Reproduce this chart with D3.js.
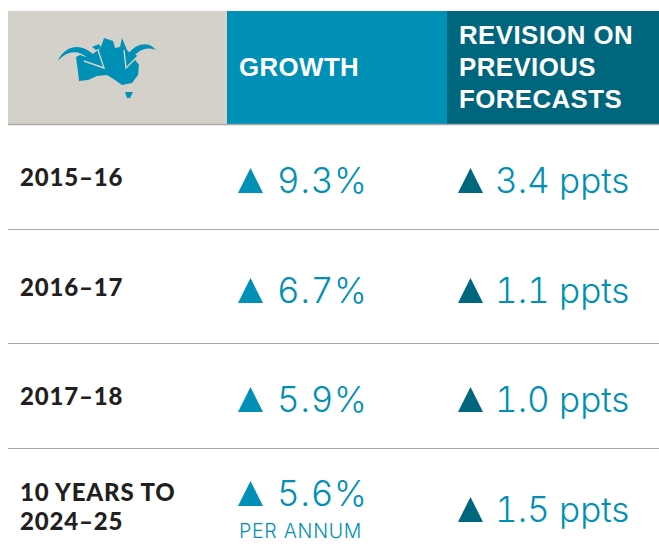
<!DOCTYPE html>
<html>
<head>
<meta charset="utf-8">
<script src="https://cdn.jsdelivr.net/npm/d3@7"></script>
<style>
  html,body{margin:0;padding:0;background:#fff;}
  svg{display:block;}
  .head{font-family:"Liberation Sans",sans-serif;font-weight:700;font-size:25.8px;fill:#fff;letter-spacing:.45px;}
  .period{font-family:"Lato",sans-serif;font-weight:900;font-size:24px;fill:#231f20;letter-spacing:.85px;}
  .val{font-family:"Inter",sans-serif;font-weight:300;font-size:35px;fill:#0090b5;font-variant-numeric:tabular-nums;font-feature-settings:"tnum" 1;}
  .val.pct{letter-spacing:.8px;}
  .note{font-family:"Inter",sans-serif;font-weight:300;font-size:19.5px;fill:#0090b5;letter-spacing:.75px;}
</style>
</head>
<body>
<script>
/* Forecast table: growth and revision per period, header icon is a plain sketch of the map */
const periods = [['2015–16'], ['2016–17'], ['2017–18'], ['10 YEARS TO', '2024–25']];
const growth = [9.3, 6.7, 5.9, 5.6];
const revision = [3.4, 1.1, 1.0, 1.5];
const growthNote = ['', '', '', 'PER ANNUM'];
const columns = [['GROWTH'], ['REVISION ON', 'PREVIOUS', 'FORECASTS']];

const GREY = '#d4d0ca', BLUE = '#0090b5', DARK = '#00667e', RULE = '#a9a7a2';
const W = 659, H = 556;

const svg = d3.select('body').append('svg').attr('width', W).attr('height', H);

// row geometry, the rows aren't evenly spaced in the original
const rowY = d3.scaleOrdinal().domain(d3.range(4)).range([193, 303, 412, 506]);
const revY = d3.scaleOrdinal().domain(d3.range(4)).range([193, 303, 412, 522]);
const labelY = d3.scaleOrdinal().domain(d3.range(4)).range([186, 296, 405, 501]);
const rules = [229.5, 343.5, 448.5];

// header blocks
svg.append('rect').attr('x', 8).attr('y', 11).attr('width', 219).attr('height', 113).attr('fill', GREY);
svg.append('rect').attr('x', 227).attr('y', 11).attr('width', 220).attr('height', 113).attr('fill', BLUE);
svg.append('rect').attr('x', 447).attr('y', 11).attr('width', 212).attr('height', 113).attr('fill', DARK);

svg.append('line').attr('x1', 8).attr('x2', W).attr('y1', 124.5).attr('y2', 124.5).attr('stroke', RULE).attr('stroke-width', 1.5);
svg.selectAll('line.rule').data(rules).join('line').attr('class', 'rule')
  .attr('x1', 8).attr('x2', W).attr('y1', d => d).attr('y2', d => d)
  .attr('stroke', RULE).attr('stroke-width', 1.2);

// header text
svg.append('text').attr('class', 'head').attr('x', 239).attr('y', 76).text(columns[0][0]);
svg.append('g').selectAll('text').data(columns[1]).join('text')
  .attr('class', 'head').attr('x', 459).attr('y', (d, i) => 44 + i * 32).text(d => d);

// map icon
const poly = d3.line().curve(d3.curveLinearClosed);
const open = d3.line();
const icon = svg.append('g');
icon.append('path').attr('fill', BLUE).attr('d', poly([
  [76,57],[80,55],[86,57],[98,52],[102,44],[104,38],[113,41],[115,48],[120,47],[122,38],
  [127,50],[133,57],[139,65],[138,75],[132,83],[122,85],[115,80],[107,75],[97,76],[88,80],[79,81],[78,72]
]));
icon.append('path').attr('fill', BLUE).attr('d', poly([[125,92],[133,92],[130,98],[127,98]]));
icon.append('path').attr('fill', BLUE).attr('d', poly([[92,47],[99,44],[101,48],[96,50]]));

const arrow = (tail, tip, barbA, barbB) => {
  icon.append('path').attr('fill', BLUE).attr('d', poly([barbA, tip, barbB]));
  icon.append('path').attr('fill', 'none').attr('stroke', GREY).attr('stroke-width', 1.4)
    .attr('d', open([barbA, tip, barbB]));
  icon.append('path').attr('fill', BLUE).attr('d', tail);
};
arrow('M58,61 C64,46 80,42 93,54 L88,58 C78,50 68,50 58,61 Z', [104,68], [98,50], [84,61]);
arrow('M156,50 C148,40 134,44 127,56 L132,59 C138,50 146,46 156,50 Z', [126,68], [124,50], [138,56]);

// rows
const tri = (x, base) => poly([[x, base], [x + 25, base], [x + 12.5, base - 25]]);
const fmt = d3.format('.1f');

const rows = svg.selectAll('g.row').data(periods).join('g').attr('class', 'row');
rows.each(function(lines, i) {
  const g = d3.select(this);
  g.selectAll('text.period').data(lines).join('text').attr('class', 'period')
    .attr('x', 20).attr('y', (d, j) => labelY(i) + j * 29).text(d => d);

  g.append('path').attr('d', tri(238, rowY(i))).attr('fill', BLUE);
  g.append('text').attr('class', 'val pct').attr('x', 277).attr('y', rowY(i)).text(fmt(growth[i]) + '%');
  if (growthNote[i]) g.append('text').attr('class', 'note').attr('x', 239).attr('y', 538).text(growthNote[i]);

  g.append('path').attr('d', tri(458, revY(i))).attr('fill', DARK);
  g.append('text').attr('class', 'val').attr('x', 495).attr('y', revY(i)).text(fmt(revision[i]) + ' ppts');
});
</script>
</body>
</html>
